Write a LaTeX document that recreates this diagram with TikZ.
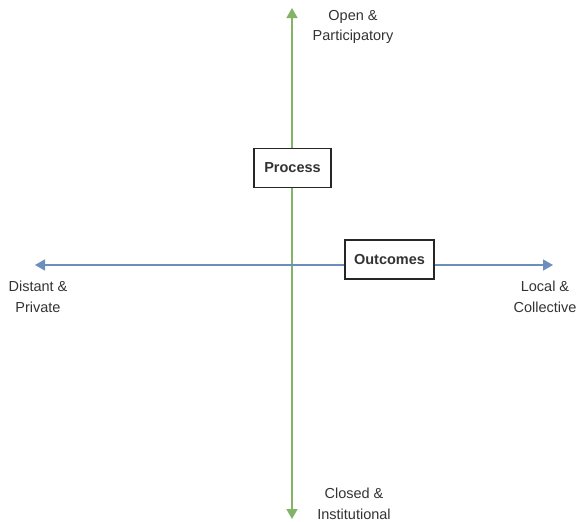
\documentclass[tikz,border=0pt]{standalone}
\usepackage{fontspec}
\setmainfont{Liberation Sans}
\usetikzlibrary{arrows.meta}
\definecolor{axgreen}{HTML}{82B366}
\definecolor{axblue}{HTML}{6C8EBF}
\definecolor{txtgray}{HTML}{333333}
\begin{document}
\begin{tikzpicture}[x=1pt,y=-1pt,
  axis/.style={line width=1.6pt},
  lbl/.style={text=txtgray,font=\fontsize{14.5}{20.5}\selectfont,align=center,inner sep=0pt},
  box/.style={draw=black!85,line width=1.4pt,fill=white,text=txtgray,font=\fontsize{14.5}{16}\selectfont\bfseries,inner sep=0pt,minimum height=39pt}]
\useasboundingbox (0,0) rectangle (579,522);
\coordinate (top) at (292,8);
\coordinate (bot) at (292,519);
\coordinate (left) at (35,265);
\coordinate (right) at (553,265);
\draw[axis,draw=axgreen,{Triangle[length=10pt,width=11pt,fill=axgreen]}-{Triangle[length=10pt,width=11pt,fill=axgreen]}] (top) -- (bot);
\draw[axis,draw=axblue,{Triangle[length=10pt,width=11pt,fill=axblue]}-{Triangle[length=10pt,width=11pt,fill=axblue]}] (left) -- (right);
\node[box,minimum width=77pt] (process) at (292.5,168) {Process};
\node[box,minimum width=89pt] (outcomes) at (389.5,259.5) {Outcomes};
\node[lbl] (open) at (353,27) {Open \&\\Participatory};
\node[lbl] (closed) at (354,504) {Closed \&\\Institutional};
\node[lbl] (distant) at (38,297) {Distant \&\\Private};
\node[lbl] (local) at (545,297) {Local \&\\Collective};
\end{tikzpicture}
\end{document}
